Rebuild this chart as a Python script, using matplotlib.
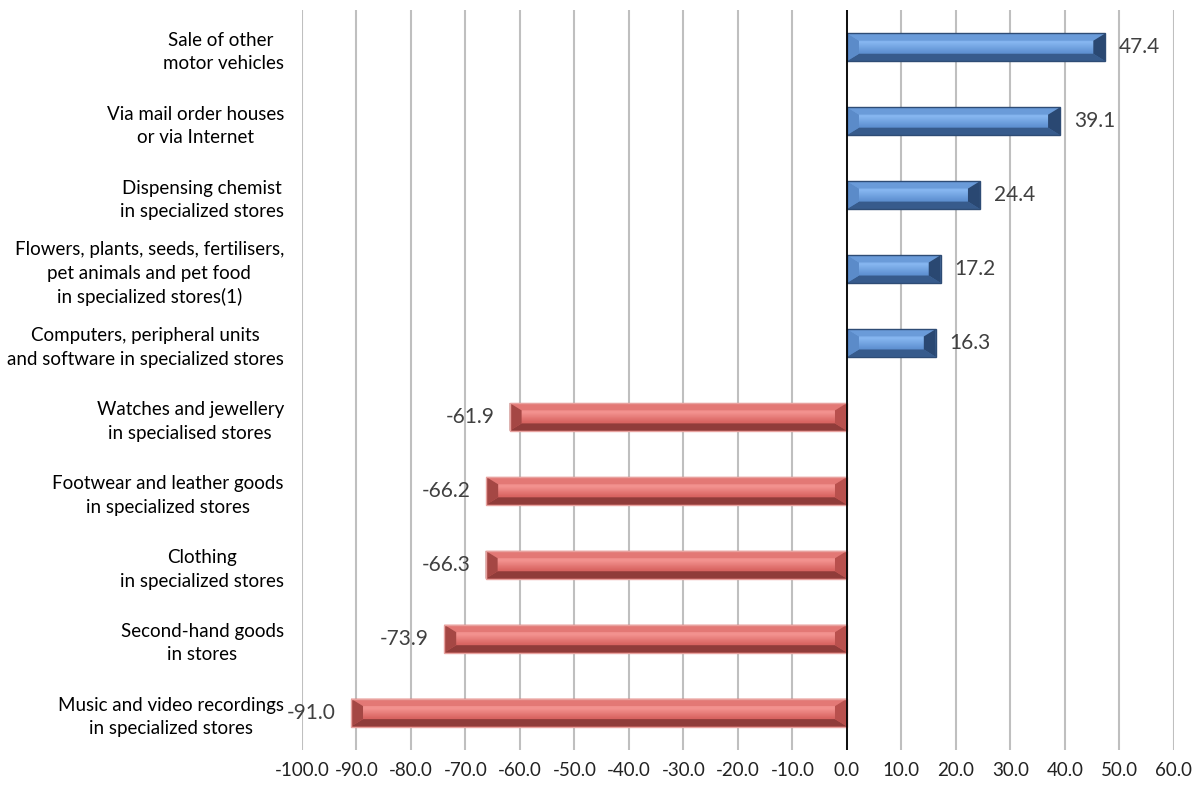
import matplotlib
matplotlib.use("Agg")
import matplotlib.pyplot as plt
from matplotlib.patches import Polygon, Rectangle
from matplotlib.colors import LinearSegmentedColormap
import numpy as np

categories = [
    "Sale of other \nmotor vehicles",
    "Via mail order houses\nor via Internet",
    "Dispensing chemist\nin specialized stores",
    "Flowers, plants, seeds, fertilisers,\npet animals and pet food\nin specialized stores(1)",
    "Computers, peripheral units\nand software in specialized stores",
    "Watches and jewellery\nin specialised stores",
    "Footwear and leather goods\nin specialized stores",
    "Clothing\nin specialized stores",
    "Second-hand goods\nin stores",
    "Music and video recordings\nin specialized stores",
]
values = [47.4, 39.1, 24.4, 17.2, 16.3, -61.9, -66.2, -66.3, -73.9, -91.0]
xticks = list(range(-100, 61, 10))

plt.rcParams['font.family'] = ['Lato', 'DejaVu Sans']

fig = plt.figure(figsize=(11.95, 7.89), dpi=100)
ax = fig.add_axes([0.2527, 0.050, 0.7297, 0.937])

n = len(categories)
ypos = np.arange(n)
h = 0.377
dy = 0.10
dx = 2.2

pal = {
    'pos': dict(grad=['#78A9E6', '#86B6F0', '#6294D4', '#4877B6'],
                top='#6A9BD9', bot='#375B8C', end='#2A4872', inner='#5B8BC9', edge='#2E4C75'),
    'neg': dict(grad=['#EE8784', '#F39390', '#DA6663', '#C3524F'],
                top='#E37875', bot='#903C3A', end='#A54744', inner='#B9504D', edge='#E8A29F'),
}

for y, v in zip(ypos, values):
    c = pal['pos'] if v >= 0 else pal['neg']
    x0, x1 = min(0, v), max(0, v)
    yt, yb = y - h / 2, y + h / 2  # yt is visual top (inverted axis)
    cmap = LinearSegmentedColormap.from_list('g', c['grad'])
    grad = np.linspace(0, 1, 64).reshape(-1, 1)
    ax.imshow(grad, cmap=cmap, aspect='auto', extent=(x0, x1, yb, yt),
              origin='upper', zorder=3, interpolation='bilinear')
    ax.add_patch(Polygon([(x0, yt), (x1, yt), (x1 - dx, yt + dy), (x0 + dx, yt + dy)],
                         closed=True, facecolor=c['top'], edgecolor='none', zorder=4))
    ax.add_patch(Polygon([(x0, yb), (x1, yb), (x1 - dx, yb - dy), (x0 + dx, yb - dy)],
                         closed=True, facecolor=c['bot'], edgecolor='none', zorder=4))
    outer = x1 if v >= 0 else x0
    inner = x0 if v >= 0 else x1
    so = -1 if v >= 0 else 1
    si = -so
    ax.add_patch(Polygon([(outer, yt), (outer + so * dx, yt + dy), (outer + so * dx, yb - dy), (outer, yb)],
                         closed=True, facecolor=c['end'], edgecolor='none', zorder=4))
    ax.add_patch(Polygon([(inner, yt), (inner + si * dx, yt + dy), (inner + si * dx, yb - dy), (inner, yb)],
                         closed=True, facecolor=c['inner'], edgecolor='none', zorder=4))
    ax.add_patch(Rectangle((x0, yt), x1 - x0, h, facecolor='none', edgecolor=c['edge'], lw=1.0, zorder=5))
    if v >= 0:
        ax.annotate(f"{v:.1f}", (v, y), xytext=(10, 0), textcoords='offset points',
                    ha='left', va='center', fontsize=15, color='#404040', zorder=6)
    else:
        ax.annotate(f"{v:.1f}", (v, y), xytext=(-11, 0), textcoords='offset points',
                    ha='right', va='center', fontsize=15, color='#404040', zorder=6)

ax.set_xlim(-100, 60)
ax.set_ylim(n - 0.5, -0.5)
ax.set_xticks(xticks)
ax.set_xticklabels([f"{t:.1f}" for t in xticks], fontsize=13.5, color='#222222')
ax.set_yticks(ypos)
ax.set_yticklabels(categories, fontsize=13.5, ha='right', multialignment='center',
                   linespacing=1.45)
ax.tick_params(axis='y', length=0, pad=13)
ax.tick_params(axis='x', length=0, pad=9)
for s in ax.spines.values():
    s.set_visible(False)
ax.grid(axis='x', color='#BFBFBF', lw=1.5, zorder=0)
ax.set_axisbelow(True)
ax.axvline(0, color='black', lw=1.3, zorder=6)

fig.savefig("out.png", dpi=100)
